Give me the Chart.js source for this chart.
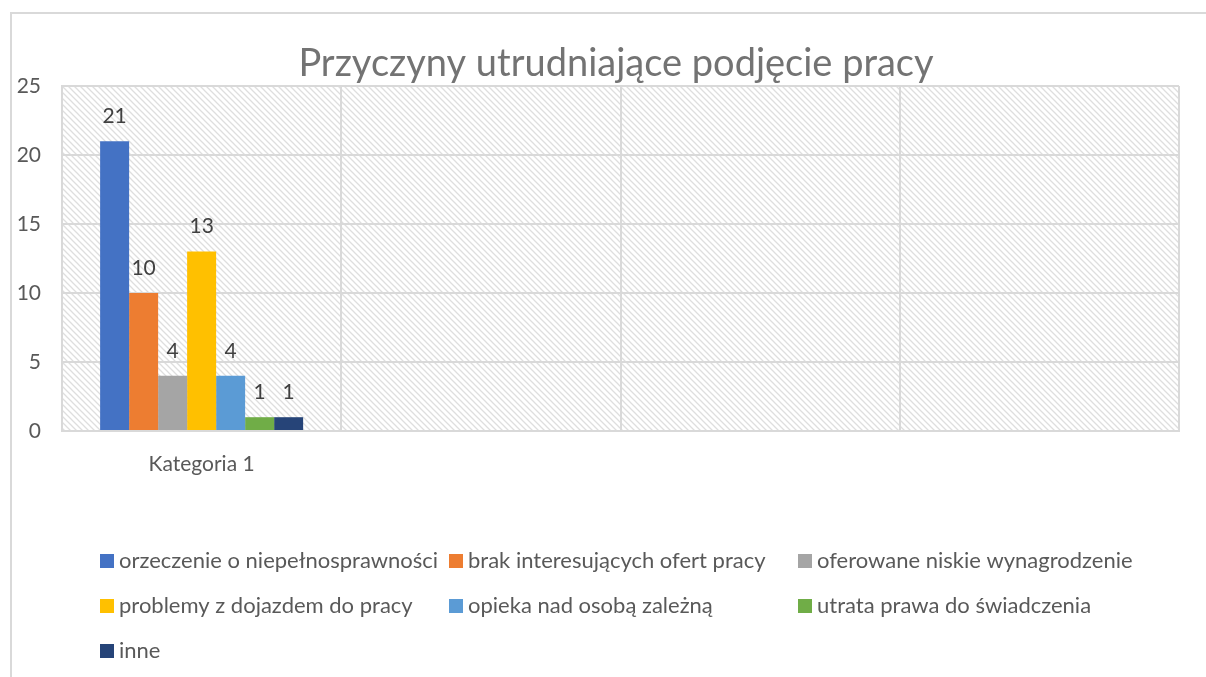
<!DOCTYPE html>
<html>
<head>
<meta charset="utf-8">
<script src="https://cdn.jsdelivr.net/npm/chart.js@4.4.0/dist/chart.umd.min.js"></script>
<style>
html, body { margin: 0; padding: 0; background: #fff; }
canvas { display: block; }
</style>
</head>
<body>
<canvas id="myChart" width="1206" height="677"></canvas>
<script>
'use strict';
let chartTitle = 'Przyczyny utrudniające podjęcie pracy';
let categories = ['Kategoria 1', '', '', ''];
let seriesNames = [
    'orzeczenie o niepełnosprawności',
    'brak interesujących ofert pracy',
    'oferowane niskie wynagrodzenie',
    'problemy z dojazdem do pracy',
    'opieka nad osobą zależną',
    'utrata prawa do świadczenia',
    'inne'
];
let seriesValues = [21, 10, 4, 13, 4, 1, 1];
let yMin = 0;
let yMax = 25;
let yStep = 5;

let seriesColors = ['#4472C4', '#ED7D31', '#A5A5A5', '#FFC000', '#5B9BD5', '#70AD47', '#264478'];
let fontName = 'Lato';
let gridColor = '#d9d9d9';

// diagonal hatch for the plot area
function makeHatch(ctx) {
    let c = document.createElement('canvas');
    c.width = 6;
    c.height = 6;
    let x = c.getContext('2d');
    x.fillStyle = '#fff';
    x.fillRect(0, 0, 6, 6);
    x.strokeStyle = '#dedede';
    x.lineWidth = 1.3;
    x.beginPath();
    x.moveTo(-1, -1); x.lineTo(7, 7);
    x.moveTo(-1, 5); x.lineTo(1, 7);
    x.moveTo(5, -1); x.lineTo(7, 1);
    x.stroke();
    return ctx.createPattern(c, 'repeat');
}

let datasets = [];
for (let i = 0; i < seriesNames.length; i++) {
    let row = categories.map(function (c, j) { return j === 0 ? seriesValues[i] : null; });
    datasets.push({
        label: seriesNames[i],
        data: row,
        backgroundColor: seriesColors[i],
        borderWidth: 0,
        categoryPercentage: 0.727,
        barPercentage: 1
    });
}

let extras = {
    id: 'extras',
    beforeDraw: function (chart) {
        let ctx = chart.ctx;
        let a = chart.chartArea;
        ctx.save();
        // outer frame
        ctx.strokeStyle = gridColor;
        ctx.lineWidth = 2;
        ctx.strokeRect(11, 13, 1400, 1000);
        // hatched plot area
        ctx.fillStyle = makeHatch(ctx);
        ctx.fillRect(a.left, a.top, a.right - a.left, a.bottom - a.top);
        ctx.restore();
    },
    afterDatasetsDraw: function (chart) {
        let ctx = chart.ctx;
        ctx.save();
        ctx.font = '21px ' + fontName;
        ctx.fillStyle = '#404040';
        ctx.textAlign = 'center';
        ctx.textBaseline = 'middle';
        chart.data.datasets.forEach(function (ds, i) {
            let meta = chart.getDatasetMeta(i);
            meta.data.forEach(function (el, j) {
                if (ds.data[j] === null) return;
                ctx.fillText(String(ds.data[j]), el.x, el.y - 25);
            });
        });
        ctx.restore();
    },
    afterDraw: function (chart) {
        let ctx = chart.ctx;
        ctx.save();
        // title
        ctx.font = '38px ' + fontName;
        ctx.fillStyle = '#737373';
        ctx.textAlign = 'center';
        ctx.textBaseline = 'alphabetic';
        ctx.fillText(chartTitle, 616, 76);
        // legend in three columns
        let cols = [100, 449, 798];
        let rows = [561, 606, 651];
        ctx.font = '22px ' + fontName;
        ctx.textAlign = 'left';
        ctx.textBaseline = 'middle';
        chart.data.datasets.forEach(function (ds, i) {
            let x = cols[i % 3];
            let y = rows[Math.floor(i / 3)];
            ctx.fillStyle = ds.backgroundColor;
            ctx.fillRect(x, y - 7, 14, 14);
            ctx.fillStyle = '#595959';
            ctx.fillText(ds.label, x + 19, y);
        });
        ctx.restore();
    }
};

let ctx = document.getElementById('myChart').getContext('2d');
let myChart = new Chart(ctx, {
    type: 'bar',
    data: {
        labels: categories,
        datasets: datasets
    },
    options: {
        responsive: false,
        animation: false,
        layout: {
            padding: { left: 12, top: 86, right: 27, bottom: 0 }
        },
        plugins: {
            legend: { display: false },
            title: { display: false },
            tooltip: { enabled: false }
        },
        scales: {
            x: {
                grid: { color: gridColor, lineWidth: 2, drawTicks: false, offset: true },
                border: { color: gridColor, width: 2 },
                ticks: { color: '#595959', font: { family: fontName, size: 21 }, padding: 21, maxRotation: 0 },
                afterFit: function (scale) { scale.height = 246; }
            },
            y: {
                min: yMin,
                max: yMax,
                grid: { color: gridColor, lineWidth: 2, drawTicks: false },
                border: { color: gridColor, width: 2 },
                ticks: { stepSize: yStep, color: '#595959', font: { family: fontName, size: 21 }, padding: 21 },
                afterFit: function (scale) { scale.width = 50; }
            }
        }
    },
    plugins: [extras]
});
</script>
</body>
</html>
